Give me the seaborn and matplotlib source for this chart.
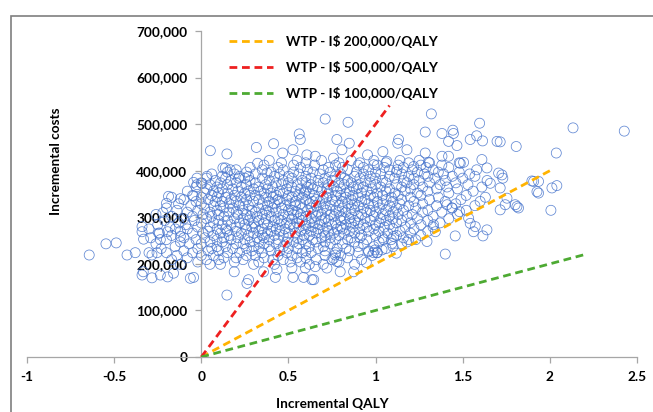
import matplotlib
matplotlib.use("Agg")
import matplotlib.pyplot as plt
import seaborn as sns
import pandas as pd
from matplotlib.patches import Rectangle
from matplotlib.ticker import FuncFormatter

# ---------------- data ----------------
# WTP threshold lines: label, I$/QALY, QALY where the dashed line ends
wtp_labels = ["WTP - I\\$ 200,000/QALY", "WTP - I\\$ 500,000/QALY", "WTP - I\\$ 100,000/QALY"]
wtp_values = [200000, 500000, 100000]
wtp_end_qaly = [2.0, 1.08, 2.2]
wtp_colors = ["#FFB300", "#EE2020", "#4DAA32"]

x_ticks = [-1, -0.5, 0, 0.5, 1, 1.5, 2, 2.5]
y_ticks = [0, 100000, 200000, 300000, 400000, 500000, 600000, 700000]

# dense core of the simulation cloud: cost band (thousand I$) -> QALY values
core_costs = [199, 204, 209, 213, 218, 224, 228, 233, 237, 243, 247, 252, 256, 261,
              266, 270, 275, 279, 284, 288, 293, 297, 302, 306, 311, 315, 320, 325,
              329, 334, 338, 343, 347, 352, 356, 361, 365, 370, 374, 379, 384, 388,
              393, 397, 402, 407, 412, 417, 422]
core_qaly = [
    [-.12, .05, .11, .3, .42, .62, .7, .88],
    [-.02, .19, .33, .51, .57, .79],
    [-.17, .03, .1, .24, .41, .47, .66, .75, .92],
    [-.08, .13, .2, .36, .55, .6, .84],
    [-.14, .0, .07, .26, .31, .44, .52, .71, .8, .98],
    [-.2, -.05, .15, .22, .35, .49, .58, .63, .77, .9, 1.01],
    [-.1, .04, .1, .29, .4, .45, .6, .71, .85, .96],
    [-.23, -.02, .06, .18, .26, .33, .5, .55, .67, .78, .83, 1.06],
    [-.15, .09, .14, .3, .39, .47, .62, .7, .9, .99, 1.1],
    [-.26, -.07, .0, .2, .24, .36, .43, .56, .6, .74, .81, .93, 1.15],
    [-.12, .05, .12, .28, .33, .49, .53, .66, .71, .88, 1.02, 1.18],
    [-.2, -.03, .09, .17, .25, .39, .44, .58, .64, .77, .84, .95, 1.09, 1.23],
    [-.29, -.1, .02, .13, .21, .32, .36, .5, .55, .69, .74, .86, .91, 1.04, 1.16],
    [-.17, .07, .16, .27, .35, .42, .47, .59, .62, .71, .79, .92, 1.0, 1.12, 1.26],
    [-.24, -.05, .01, .11, .23, .3, .38, .5, .54, .66, .76, .82, .88, 1.07, 1.2],
    [-.12, .04, .15, .2, .33, .4, .45, .57, .63, .7, .73, .85, .96, 1.02, 1.14, 1.3],
    [-.3, -.08, .09, .14, .26, .35, .43, .48, .6, .67, .78, .81, .91, .99, 1.1, 1.22],
    [-.18, -.02, .05, .2, .29, .31, .41, .53, .56, .64, .72, .8, .87, .95, 1.05, 1.17, 1.33],
    [-.25, -.09, .12, .17, .25, .38, .45, .51, .6, .68, .75, .83, .93, 1.0, 1.08, 1.26],
    [-.13, .0, .07, .22, .3, .36, .49, .55, .62, .65, .77, .86, .9, 1.02, 1.12, 1.2, 1.37],
    [-.21, -.04, .1, .15, .27, .33, .42, .46, .58, .69, .73, .8, .88, .97, 1.06, 1.15, 1.3],
    [-.1, .03, .19, .24, .37, .44, .52, .56, .63, .71, .82, .85, .94, 1.03, 1.1, 1.24, 1.42],
    [-.17, -.05, .06, .13, .28, .32, .4, .5, .6, .66, .76, .8, .9, .99, 1.08, 1.18, 1.33],
    [-.26, .01, .1, .21, .26, .35, .47, .53, .57, .69, .74, .86, .92, 1.04, 1.13, 1.21, 1.47],
    [-.08, .05, .16, .2, .31, .39, .43, .55, .64, .67, .79, .83, .95, 1.0, 1.1, 1.27, 1.38],
    [-.14, -.02, .09, .24, .29, .37, .5, .52, .61, .72, .77, .88, .97, 1.06, 1.16, 1.3, 1.52],
    [-.2, .02, .13, .18, .33, .41, .46, .58, .63, .7, .81, .86, .93, 1.02, 1.12, 1.23, 1.44],
    [-.06, .07, .11, .22, .27, .38, .48, .54, .66, .74, .79, .9, .99, 1.08, 1.19, 1.35, 1.57],
    [-.13, .0, .16, .24, .35, .42, .51, .57, .62, .71, .84, .88, .96, 1.04, 1.14, 1.27, 1.46],
    [-.03, .08, .12, .2, .3, .39, .45, .54, .64, .68, .77, .81, .92, 1.01, 1.1, 1.22, 1.4, 1.6],
    [-.1, .04, .17, .26, .33, .44, .49, .6, .66, .75, .86, .94, 1.06, 1.15, 1.31, 1.49],
    [-.17, .0, .09, .14, .23, .37, .41, .52, .58, .7, .72, .83, .9, .99, 1.09, 1.2, 1.36, 1.63],
    [-.05, .06, .19, .28, .31, .43, .5, .56, .65, .77, .8, .87, .97, 1.04, 1.13, 1.26, 1.52],
    [.02, .1, .15, .25, .36, .4, .47, .59, .62, .73, .83, .92, 1.01, 1.11, 1.24, 1.42],
    [-.08, .07, .21, .27, .34, .45, .54, .6, .69, .78, .85, .95, 1.06, 1.17, 1.3, 1.56],
    [.03, .12, .18, .3, .38, .49, .57, .64, .72, .8, .89, .98, 1.08, 1.2, 1.35, 1.47],
    [-.03, .09, .23, .33, .41, .52, .61, .67, .76, .87, .93, 1.03, 1.15, 1.27, 1.41, 1.61],
    [.05, .15, .26, .37, .46, .55, .63, .73, .82, .9, 1.0, 1.12, 1.22, 1.37, 1.53],
    [.0, .11, .2, .31, .43, .5, .6, .7, .79, .86, .97, 1.06, 1.18, 1.31, 1.46],
    [.08, .17, .28, .39, .47, .58, .67, .75, .84, .94, 1.04, 1.16, 1.25, 1.4, 1.64],
    [.03, .14, .25, .35, .52, .63, .71, .82, .91, 1.0, 1.11, 1.22, 1.34, 1.5],
    [.12, .22, .42, .5, .6, .77, .88, .97, 1.08, 1.19, 1.3, 1.44, 1.57],
    [.06, .19, .31, .45, .56, .68, .8, .93, 1.03, 1.15, 1.28, 1.39, 1.54],
    [.15, .26, .4, .53, .64, .74, .89, 1.0, 1.12, 1.24, 1.36, 1.48],
    [.2, .35, .47, .61, .7, .84, .96, 1.08, 1.21, 1.33],
    [.28, .44, .57, .73, .81, .93, 1.05, 1.16, 1.29, 1.42],
    [.36, .53, .65, .77, .9, 1.01, 1.13, 1.26, 1.38],
    [.46, .6, .79, .91, 1.06, 1.19, 1.31, 1.48],
    [.39, .55, .69, .86, .99, 1.14, 1.25],
]

# scattered points around the core (QALY, cost in thousand I$)
edge_qaly = [
    -0.643, -0.547, -0.488, -0.426, -0.379, -0.34, -0.34, -0.331, -0.30, -0.283, -0.254,
    -0.333, -0.34, -0.283, -0.235, -0.193, -0.159, -0.063, -0.044, -0.245, -0.235, -0.193,
    -0.12, -0.149, -0.188, -0.12, -0.044, -0.025, 0.033, -0.025, 0.004, -0.044, -0.22, -0.2,
    0.147, 0.262, 0.271, 0.189, 0.357, 0.425, 0.434, 0.526, 0.587, 0.635, 0.645, 0.52,
    0.597, 0.654, 0.721, 0.778, 0.797, 0.874, 0.947, 0.759, 0.769, 0.96, 0.989, 0.998,
    1.008, 1.037, 1.046, 1.094, 1.104, 1.119, 1.19, 1.295, 1.40, 1.457, 1.616, 1.639,
    1.562, 1.572, 1.543, 1.534, 1.333, 1.343, 1.482, 1.41, 1.438,
    2.133, 2.427, 2.037, 1.807, 1.715, 1.907, 1.926, 1.935, 1.897, 1.935, 2.012, 2.04,
    1.811, 1.706, 1.725, 1.73, 1.715, 1.754, 1.744, 1.801, 1.82, 1.715, 2.006, 1.61,
    1.639, 1.697, 1.658,
    0.711, 0.842, 0.562, 0.568, 0.415, 0.316, 0.052, 0.147, 0.323, 0.467, 0.526, 0.778,
    0.849, 0.606, 0.654, 0.807, 0.759, 0.138, 0.166, 0.214, 0.271, 0.377, 0.124,
    1.32, 1.597, 1.285, 1.381, 1.443, 1.447, 1.58, 1.614, 1.543, 1.419, 1.467, 1.132,
    1.127, 1.18, 1.042, 0.954, 1.285, 1.304, 1.381, 1.419, 1.486, 1.505, 1.58, 1.123,
    1.219, 0.99, 1.065,
]
edge_cost = [
    219, 243, 245, 219, 224, 269, 280, 253, 224, 219, 224,
    183, 176, 170, 176, 172, 180, 169, 171, 266, 252, 269,
    259, 275, 345, 340, 375, 370, 388, 384, 373, 346, 310, 330,
    133, 158, 166, 183, 183, 171, 188, 171, 171, 166, 166, 191,
    191, 194, 191, 205, 183, 183, 203, 212, 219, 226, 224, 230,
    224, 230, 252, 244, 259, 223, 252, 248, 221, 260, 260, 273,
    269, 280, 287, 298, 284, 269, 312, 327, 320,
    492, 485, 438, 452, 462, 377, 355, 377, 378, 352, 363, 368,
    323, 395, 391, 384, 363, 341, 327, 327, 320, 316, 315, 424,
    406, 463, 373,
    511, 504, 479, 467, 458, 450, 443, 436, 416, 438, 445, 467,
    459, 434, 431, 445, 427, 406, 402, 384, 388, 395, 406,
    522, 502, 483, 480, 487, 480, 475, 464, 467, 463, 454, 467,
    459, 445, 441, 434, 438, 418, 431, 431, 416, 418, 402, 402,
    409, 413, 420,
]

# ---------------- build table ----------------
xs, ys = [], []
for c, row in zip(core_costs, core_qaly):
    for q in row:
        xs.append(q)
        ys.append(c * 1000)
for q, c in zip(edge_qaly, edge_cost):
    xs.append(q)
    ys.append(c * 1000)
df = pd.DataFrame({"qaly": xs, "cost": ys})

# ---------------- plot ----------------
sns.set_theme(style="white")
plt.rcParams["font.family"] = ["Lato", "DejaVu Sans"]
plt.rcParams["font.weight"] = "bold"

fig = plt.figure(figsize=(6.53, 4.12), dpi=100)
ax = fig.add_axes([27 / 653, 1 - 357 / 412, 610 / 653, 326 / 412])

sns.scatterplot(data=df, x="qaly", y="cost", ax=ax, marker="o", s=52,
                linewidth=0.55, legend=False, zorder=2)
coll = ax.collections[-1]
coll.set_facecolor("none")
coll.set_edgecolor((0.27, 0.45, 0.80, 0.85))

handles = []
for lab, w, xe, col in zip(wtp_labels, wtp_values, wtp_end_qaly, wtp_colors):
    line_df = pd.DataFrame({"qaly": [0, xe], "cost": [0, w * xe]})
    sns.lineplot(data=line_df, x="qaly", y="cost", ax=ax, color=col, linewidth=2.0,
                 label=lab, zorder=3)
    ln = ax.lines[-1]
    ln.set_dashes((2.8, 1.7))
    handles.append(ln)

ax.set_xlim(-1, 2.5)
ax.set_ylim(0, 700000)
ax.set_xticks(x_ticks)
ax.set_yticks(y_ticks)
ax.xaxis.set_major_formatter(FuncFormatter(lambda v, p: f"{v:g}"))
ax.yaxis.set_major_formatter(FuncFormatter(lambda v, p: f"{int(v):,}"))

for s in ["top", "right"]:
    ax.spines[s].set_visible(False)
ax.spines["left"].set_position(("data", 0))
ax.spines["bottom"].set_position(("data", 0))
for s in ["left", "bottom"]:
    ax.spines[s].set_color("#A6A6A6")
    ax.spines[s].set_linewidth(0.9)

ax.tick_params(axis="both", which="major", length=4, width=0.9, color="#A6A6A6",
               labelsize=9.8, labelcolor="black", pad=6)
ax.tick_params(axis="x", direction="out", bottom=True)
ax.tick_params(axis="y", direction="out", left=True)
for t in ax.get_xticklabels() + ax.get_yticklabels():
    t.set_fontweight("bold")

ax.set_xlabel("Incremental QALY", fontsize=9.8, fontweight="bold", color="black")
ax.set_ylabel("Incremental costs", fontsize=9.8, fontweight="bold", color="black")
ax.xaxis.set_label_coords(0.5, -0.125)
ax.yaxis.set_label_coords((62 - 27) / 610, (357 - 161) / 326)

leg = ax.legend(handles=handles, labels=wtp_labels, loc="upper left",
                bbox_to_anchor=((229 - 27) / 610, (357 - 35) / 326), frameon=False,
                borderpad=0, borderaxespad=0, handlelength=3.2, handletextpad=1.0,
                labelspacing=0.95, prop={"family": "Lato", "weight": "bold", "size": 9.8})
for t in leg.get_texts():
    t.set_color("black")

fig.patches.append(Rectangle((11 / 653, -0.1), 1.2, 1.1 - 16 / 412, transform=fig.transFigure,
                             fill=False, edgecolor="#7F7F7F", linewidth=1.2))

fig.savefig("out.png", dpi=100)
